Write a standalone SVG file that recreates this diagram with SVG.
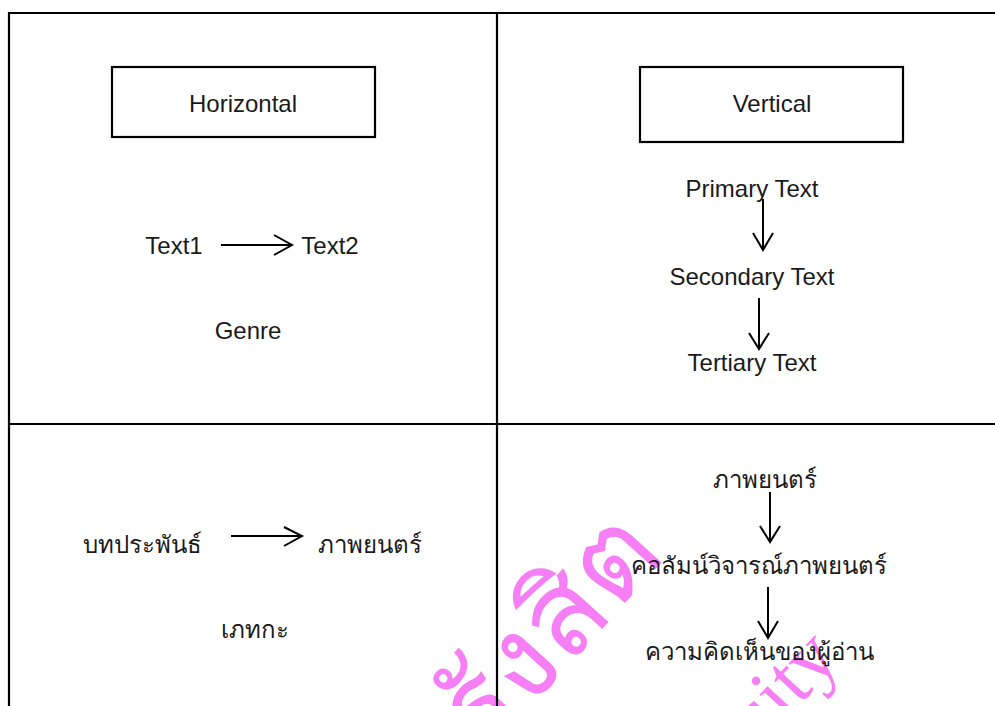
<svg xmlns="http://www.w3.org/2000/svg" width="995" height="706" viewBox="0 0 995 706">
<defs>
<style>
.t{font-family:"Liberation Sans",Arial,sans-serif;font-size:24px;fill:#1a1a1a;text-anchor:middle}
.th{font-family:"Liberation Sans","Noto Sans",sans-serif;font-size:24px;fill:#1a1a1a;text-anchor:middle}
.frame{stroke:#000;stroke-width:2.2;fill:none}
.box{stroke:#000;stroke-width:2.2;fill:#fff}
.ln{stroke:#000;stroke-width:2;fill:none}
.wm{fill:#f77ff5}
</style>
</defs>
<rect width="995" height="706" fill="#fff"/>
<g id="watermark">
<text class="wm" transform="translate(668,556) rotate(-48)" font-family="'Liberation Sans',sans-serif" font-size="118" text-anchor="end">มหาวิทยาลัยรังสิต</text>
<text class="wm" transform="translate(842,660) rotate(-47)" font-family="'Liberation Serif',serif" font-size="80" text-anchor="end">Rangsit University</text>
</g>
<g id="frame">
<line class="frame" x1="9" y1="13" x2="995" y2="13"/>
<line class="frame" x1="9" y1="12" x2="9" y2="706"/>
<line class="frame" x1="497" y1="13" x2="497" y2="706"/>
<line class="frame" x1="9" y1="424" x2="995" y2="424"/>
</g>
<g id="horizontal">
<rect class="box" x="112" y="67" width="263" height="70"/>
<text class="t" x="243" y="112">Horizontal</text>
</g>
<g id="text1"><text class="t" x="174" y="254">Text1</text></g>
<g id="text2"><text class="t" x="330" y="254">Text2</text></g>
<g id="genre"><text class="t" x="248" y="339">Genre</text></g>
<g id="vertical">
<rect class="box" x="640" y="67" width="263" height="75"/>
<text class="t" x="772" y="112">Vertical</text>
</g>
<g id="primary"><text class="t" x="752" y="197">Primary Text</text></g>
<g id="secondary"><text class="t" x="752" y="285">Secondary Text</text></g>
<g id="tertiary"><text class="t" x="752" y="371">Tertiary Text</text></g>
<g id="th-source"><text class="th" x="142" y="553">บทประพันธ์</text></g>
<g id="th-film1"><text class="th" x="370" y="553">ภาพยนตร์</text></g>
<g id="th-genre"><text class="th" x="255" y="638">เภทกะ</text></g>
<g id="th-film2"><text class="th" x="765" y="488">ภาพยนตร์</text></g>
<g id="th-column"><text class="th" x="759" y="574">คอลัมน์วิจารณ์ภาพยนตร์</text></g>
<g id="th-opinion"><text class="th" x="759" y="660">ความคิดเห็นของผู้อ่าน</text></g>
<g id="connectors">
<path class="ln" d="M221,245 H292 M274,235 L292,245 L274,255"/>
<path class="ln" d="M763,199 V250 M753,233 L763,250 L773,233"/>
<path class="ln" d="M759,298 V349 M749,333 L759,349 L769,333"/>
<path class="ln" d="M231,536 H302 M284,527 L302,536 L284,546"/>
<path class="ln" d="M770,492 V542 M760,526 L770,542 L780,526"/>
<path class="ln" d="M768,587 V638 M758,621 L768,638 L778,621"/>
</g>
</svg>
